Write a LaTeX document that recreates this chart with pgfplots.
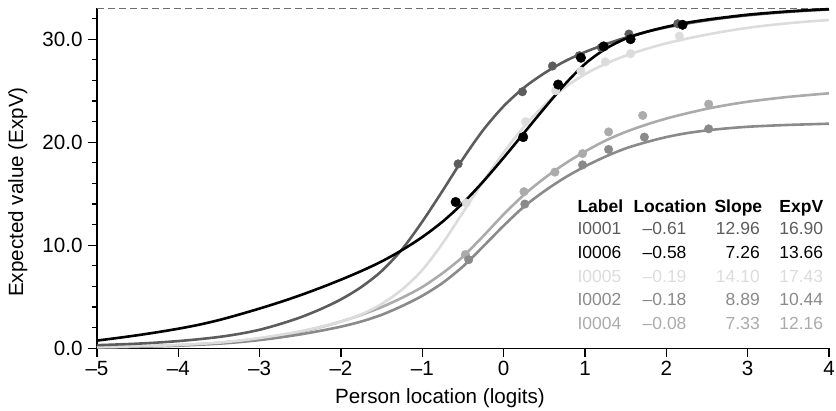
\documentclass[border=0pt]{standalone}
\usepackage{fontspec}
\setmainfont{Liberation Sans}
\usepackage{pgfplots}
\pgfplotsset{compat=1.18}

\definecolor{cI1}{HTML}{5C5C5C}
\definecolor{cI6}{HTML}{000000}
\definecolor{cI5}{HTML}{DCDCDC}
\definecolor{cI2}{HTML}{8A8A8A}
\definecolor{cI4}{HTML}{ABABAB}
\definecolor{dashc}{HTML}{6E6E6E}

\begin{document}
\begin{tikzpicture}[font=\fontsize{20.6}{24}\selectfont]
\begin{axis}[
  at={(97pt,62.7pt)}, anchor=south west,
  scale only axis, width=732pt, height=340pt,
  xmin=-5, xmax=4, ymin=0, ymax=33,
  axis x line*=bottom, axis y line*=left,
  axis line style={-, line width=1.2pt},
  xtick={-5,-4,-3,-2,-1,0,1,2,3,4},
  xticklabels={–5,–4,–3,–2,–1,0,1,2,3,4},
  ytick={0,10,20,30}, yticklabels={0.0,10.0,20.0,30.0},
  minor ytick={2,4,6,8,12,14,16,18,22,24,26,28,32},
  tick align=outside, major tick length=9pt, minor tick length=5pt,
  tick style={line width=1.2pt, black},
  ticklabel style={font=\fontsize{20.6}{24}\selectfont},
  yticklabel style={xshift=-2pt},
  clip=false,
]
% max score
\addplot[dashc, line width=1.2pt, dash pattern=on 7pt off 4pt] coordinates {(-5,33) (4,33)};

% I0004
\addplot[cI4, line width=2.6pt, smooth] coordinates {
(-5,0.1) (-4.75,0.13) (-4.5,0.17) (-4.25,0.23) (-4,0.3) (-3.75,0.4) (-3.5,0.53)
(-3.25,0.72) (-3,0.95) (-2.75,1.25) (-2.5,1.6) (-2.25,2.05) (-2,2.6) (-1.75,3.25)
(-1.5,4.0) (-1.25,4.9) (-1,5.95) (-0.75,7.3) (-0.5,8.9) (-0.25,10.9) (0,13.0)
(0.25,14.9) (0.5,16.5) (0.75,17.9) (1,19.1) (1.25,20.15) (1.5,21.0) (1.75,21.7)
(2,22.3) (2.25,22.8) (2.5,23.25) (2.75,23.62) (3,23.93) (3.25,24.18) (3.5,24.4)
(3.75,24.58) (4,24.75)};
\addplot[only marks, mark=*, mark size=4.3pt, cI4] coordinates {
(-0.47,9.1) (0.25,15.2) (0.63,17.1) (0.97,18.9) (1.29,21.0) (1.71,22.6) (2.52,23.7)};

% I0002
\addplot[cI2, line width=2.6pt, smooth] coordinates {
(-5,0.08) (-4.75,0.11) (-4.5,0.15) (-4.25,0.19) (-4,0.25) (-3.75,0.34) (-3.5,0.45)
(-3.25,0.6) (-3,0.8) (-2.75,1.05) (-2.5,1.35) (-2.25,1.7) (-2,2.1) (-1.75,2.6)
(-1.5,3.25) (-1.25,4.1) (-1,5.1) (-0.75,6.35) (-0.5,7.95) (-0.25,9.9) (0,11.9)
(0.25,13.75) (0.5,15.25) (0.75,16.55) (1,17.65) (1.25,18.6) (1.5,19.4) (1.75,20.0)
(2,20.5) (2.25,20.88) (2.5,21.15) (2.75,21.35) (3,21.5) (3.25,21.6) (3.5,21.68)
(3.75,21.74) (4,21.8)};
\addplot[only marks, mark=*, mark size=4.3pt, cI2] coordinates {
(-0.43,8.6) (0.26,14.0) (0.97,17.8) (1.29,19.3) (1.73,20.5) (2.52,21.3)};

% I0005
\addplot[cI5, line width=2.6pt, smooth] coordinates {
(-5,0.12) (-4.75,0.15) (-4.5,0.2) (-4.25,0.25) (-4,0.32) (-3.75,0.42) (-3.5,0.55)
(-3.25,0.74) (-3,1.0) (-2.75,1.3) (-2.5,1.65) (-2.25,2.08) (-2,2.6) (-1.75,3.3)
(-1.5,4.3) (-1.25,5.7) (-1,7.6) (-0.75,10.2) (-0.5,13.2) (-0.25,16.2) (0,19.0)
(0.25,21.5) (0.5,23.6) (0.75,25.3) (1,26.6) (1.25,27.6) (1.5,28.4) (1.75,29.05)
(2,29.6) (2.25,30.05) (2.5,30.45) (2.75,30.8) (3,31.1) (3.25,31.35) (3.5,31.55)
(3.75,31.72) (4,31.86)};
\addplot[only marks, mark=*, mark size=4.3pt, cI5] coordinates {
(-0.46,14.1) (0.27,22.0) (0.64,25.0) (0.95,26.9) (1.25,27.8) (1.56,28.6) (2.16,30.3)};

% I0001
\addplot[cI1, line width=2.6pt, smooth] coordinates {
(-5,0.3) (-4.75,0.37) (-4.5,0.45) (-4.25,0.56) (-4,0.7) (-3.75,0.88) (-3.5,1.1)
(-3.25,1.4) (-3,1.8) (-2.75,2.35) (-2.5,3.0) (-2.25,3.8) (-2,4.75) (-1.75,5.95)
(-1.5,7.5) (-1.25,9.6) (-1,12.3) (-0.75,15.3) (-0.5,18.4) (-0.25,21.2) (0,23.5)
(0.25,25.3) (0.5,26.7) (0.75,27.85) (1,28.75) (1.25,29.5) (1.5,30.15) (1.75,30.7)
(2,31.15) (2.25,31.52) (2.5,31.83) (2.75,32.1) (3,32.32) (3.25,32.5) (3.5,32.65)
(3.75,32.78) (4,32.88)};
\addplot[only marks, mark=*, mark size=4.3pt, cI1] coordinates {
(-0.56,17.9) (0.23,24.9) (0.6,27.4) (0.93,28.4) (1.2,29.2) (1.54,30.5) (2.14,31.5)};

% I0006
\addplot[cI6, line width=2.6pt, smooth] coordinates {
(-5,0.75) (-4.75,1.0) (-4.5,1.27) (-4.25,1.57) (-4,1.9) (-3.75,2.28) (-3.5,2.74)
(-3.25,3.28) (-3,3.86) (-2.75,4.48) (-2.5,5.15) (-2.25,5.88) (-2,6.66) (-1.75,7.5)
(-1.5,8.43) (-1.25,9.53) (-1,10.8) (-0.75,12.3) (-0.5,14.1) (-0.25,16.2) (0,18.5)
(0.25,20.9) (0.5,23.3) (0.75,25.6) (1,27.6) (1.25,29.05) (1.5,30.05) (1.75,30.7)
(2,31.2) (2.25,31.6) (2.5,31.9) (2.75,32.15) (3,32.38) (3.25,32.55) (3.5,32.7)
(3.75,32.82) (4,32.92)};
\addplot[only marks, mark=*, mark size=4.8pt, cI6] coordinates {
(-0.59,14.2) (0.24,20.5) (0.67,25.6) (0.95,28.2) (1.23,29.3) (1.56,30.0) (2.2,31.4)};
\end{axis}

% axis titles
\node[rotate=90, anchor=base] at (23pt,219pt) {Expected value (ExpV)};
\node[anchor=base] at (440pt,7pt) {Person location (logits)};

% parameter table
\begin{scope}[font=\fontsize{17.5}{21}\selectfont]
\node[anchor=base west] at (574pt,198.3pt) {\bfseries Label};
\node[anchor=base] at (670pt,198.3pt) {\bfseries Location};
\node[anchor=base east] at (765.7pt,198.3pt) {\bfseries Slope};
\node[anchor=base east] at (826.7pt,198.3pt) {\bfseries ExpV};

\node[cI1, anchor=base west] at (574pt,176.7pt) {I0001};
\node[cI1, anchor=base east] at (690pt,176.7pt) {–0.61};
\node[cI1, anchor=base east] at (763.3pt,176.7pt) {12.96};
\node[cI1, anchor=base east] at (826.7pt,176.7pt) {16.90};

\node[cI6, anchor=base west] at (574pt,152.7pt) {I0006};
\node[cI6, anchor=base east] at (690pt,152.7pt) {–0.58};
\node[cI6, anchor=base east] at (763.3pt,152.7pt) {7.26};
\node[cI6, anchor=base east] at (826.7pt,152.7pt) {13.66};

\node[cI5, anchor=base west] at (574pt,128.7pt) {I0005};
\node[cI5, anchor=base east] at (690pt,128.7pt) {–0.19};
\node[cI5, anchor=base east] at (763.3pt,128.7pt) {14.10};
\node[cI5, anchor=base east] at (826.7pt,128.7pt) {17.43};

\node[cI2, anchor=base west] at (574pt,105pt) {I0002};
\node[cI2, anchor=base east] at (690pt,105pt) {–0.18};
\node[cI2, anchor=base east] at (763.3pt,105pt) {8.89};
\node[cI2, anchor=base east] at (826.7pt,105pt) {10.44};

\node[cI4, anchor=base west] at (574pt,81.7pt) {I0004};
\node[cI4, anchor=base east] at (690pt,81.7pt) {–0.08};
\node[cI4, anchor=base east] at (763.3pt,81.7pt) {7.33};
\node[cI4, anchor=base east] at (826.7pt,81.7pt) {12.16};
\end{scope}

\pgfresetboundingbox
\useasboundingbox (0,0) rectangle (836pt,411pt);
\end{tikzpicture}
\end{document}
